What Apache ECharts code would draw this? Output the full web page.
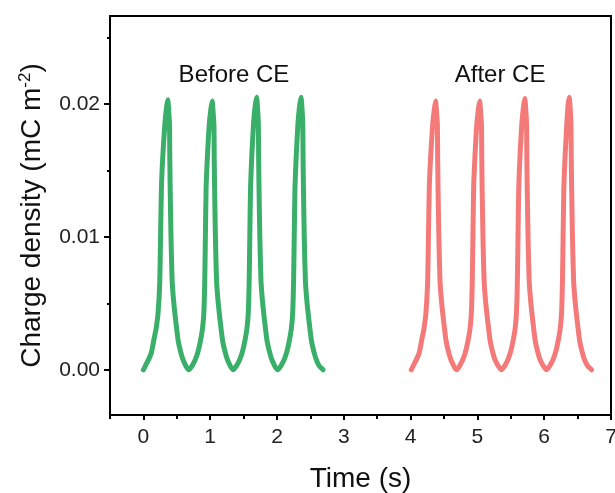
<!DOCTYPE html>
<html>
<head>
<meta charset="utf-8">
<script src="https://cdn.jsdelivr.net/npm/echarts@6/dist/echarts.min.js"></script>
<style>
  html, body { margin: 0; padding: 0; background: #fff; }
  #chart { width: 615px; height: 493px; }
</style>
</head>
<body>
<div id="chart"></div>
<script>
// Charge density traces, time (s) vs charge density (mC m^-2)
const beforeCE = [
  [0.000, 0.0000], [0.040, 0.0004], [0.080, 0.0008], [0.120, 0.0013], [0.155, 0.0022], [0.190, 0.0031],
  [0.220, 0.0043], [0.245, 0.0066], [0.257, 0.0100], [0.270, 0.0137], [0.290, 0.0160], [0.320, 0.0184],
  [0.345, 0.0197], [0.365, 0.0203],
  [0.377, 0.0196], [0.391, 0.0184], [0.395, 0.0160], [0.401, 0.0136], [0.413, 0.0100], [0.430, 0.0067],
  [0.450, 0.0053], [0.470, 0.0043], [0.495, 0.0032], [0.520, 0.0022], [0.555, 0.0014], [0.590, 0.0008],
  [0.635, 0.0003], [0.660, 0.0001], [0.680, 0.0000], [0.700, 0.0001],
  [0.730, 0.0003], [0.780, 0.0008], [0.820, 0.0014], [0.855, 0.0022], [0.885, 0.0031], [0.905, 0.0043],
  [0.918, 0.0066], [0.928, 0.0100], [0.939, 0.0137], [0.958, 0.0160], [0.985, 0.0184], [1.010, 0.0196],
  [1.030, 0.0202],
  [1.042, 0.0195], [1.056, 0.0184], [1.060, 0.0160], [1.066, 0.0136], [1.078, 0.0100], [1.095, 0.0067],
  [1.115, 0.0053], [1.135, 0.0043], [1.160, 0.0032], [1.185, 0.0022], [1.220, 0.0014], [1.255, 0.0008],
  [1.300, 0.0003], [1.325, 0.0001], [1.345, 0.0000], [1.365, 0.0001],
  [1.395, 0.0003], [1.445, 0.0008], [1.485, 0.0014], [1.520, 0.0022], [1.550, 0.0031], [1.570, 0.0043],
  [1.583, 0.0066], [1.593, 0.0100], [1.604, 0.0137], [1.623, 0.0161], [1.650, 0.0186], [1.675, 0.0199],
  [1.695, 0.0205],
  [1.707, 0.0198], [1.721, 0.0185], [1.725, 0.0160], [1.731, 0.0136], [1.743, 0.0100], [1.760, 0.0067],
  [1.780, 0.0053], [1.800, 0.0043], [1.825, 0.0032], [1.850, 0.0022], [1.885, 0.0014], [1.920, 0.0008],
  [1.965, 0.0003], [1.990, 0.0001], [2.010, 0.0000], [2.030, 0.0001],
  [2.060, 0.0003], [2.110, 0.0008], [2.150, 0.0014], [2.185, 0.0022], [2.215, 0.0031], [2.235, 0.0043],
  [2.248, 0.0066], [2.258, 0.0100], [2.269, 0.0137], [2.288, 0.0161], [2.315, 0.0186], [2.340, 0.0199],
  [2.360, 0.0205],
  [2.372, 0.0198], [2.386, 0.0185], [2.390, 0.0160], [2.396, 0.0136], [2.408, 0.0100], [2.425, 0.0067],
  [2.445, 0.0053], [2.465, 0.0043], [2.490, 0.0032], [2.515, 0.0022], [2.550, 0.0014], [2.585, 0.0008],
  [2.630, 0.0003], [2.670, 0.0001], [2.690, 0.0000]
];

const afterCE = [
  [4.010, 0.0000], [4.050, 0.0004], [4.090, 0.0008], [4.130, 0.0013], [4.165, 0.0022], [4.200, 0.0031],
  [4.230, 0.0043], [4.255, 0.0066], [4.267, 0.0100], [4.280, 0.0137], [4.300, 0.0160], [4.330, 0.0184],
  [4.355, 0.0196], [4.375, 0.0202],
  [4.387, 0.0195], [4.401, 0.0184], [4.405, 0.0160], [4.411, 0.0136], [4.423, 0.0100], [4.440, 0.0067],
  [4.460, 0.0053], [4.480, 0.0043], [4.505, 0.0032], [4.530, 0.0022], [4.565, 0.0014], [4.600, 0.0008],
  [4.645, 0.0003], [4.670, 0.0001], [4.690, 0.0000], [4.710, 0.0001],
  [4.735, 0.0003], [4.785, 0.0008], [4.825, 0.0014], [4.860, 0.0022], [4.890, 0.0031], [4.910, 0.0043],
  [4.923, 0.0066], [4.933, 0.0100], [4.944, 0.0137], [4.963, 0.0160], [4.990, 0.0184], [5.015, 0.0196],
  [5.035, 0.0202],
  [5.047, 0.0195], [5.061, 0.0184], [5.065, 0.0160], [5.071, 0.0136], [5.083, 0.0100], [5.100, 0.0067],
  [5.120, 0.0053], [5.140, 0.0043], [5.165, 0.0032], [5.190, 0.0022], [5.225, 0.0014], [5.260, 0.0008],
  [5.310, 0.0003], [5.340, 0.0001], [5.360, 0.0000], [5.380, 0.0001],
  [5.410, 0.0003], [5.460, 0.0008], [5.500, 0.0014], [5.535, 0.0022], [5.565, 0.0031], [5.585, 0.0043],
  [5.598, 0.0066], [5.608, 0.0100], [5.619, 0.0137], [5.638, 0.0161], [5.665, 0.0185], [5.690, 0.0198],
  [5.710, 0.0204],
  [5.722, 0.0197], [5.736, 0.0185], [5.740, 0.0160], [5.746, 0.0136], [5.758, 0.0100], [5.775, 0.0067],
  [5.795, 0.0053], [5.815, 0.0043], [5.840, 0.0032], [5.865, 0.0022], [5.900, 0.0014], [5.935, 0.0008],
  [5.985, 0.0003], [6.015, 0.0001], [6.035, 0.0000], [6.055, 0.0001],
  [6.085, 0.0003], [6.135, 0.0008], [6.175, 0.0014], [6.210, 0.0022], [6.240, 0.0031], [6.260, 0.0043],
  [6.273, 0.0066], [6.283, 0.0100], [6.294, 0.0137], [6.313, 0.0161], [6.340, 0.0186], [6.357, 0.0199],
  [6.375, 0.0205],
  [6.387, 0.0198], [6.401, 0.0185], [6.405, 0.0160], [6.411, 0.0136], [6.423, 0.0100], [6.440, 0.0067],
  [6.460, 0.0053], [6.480, 0.0043], [6.505, 0.0032], [6.530, 0.0022], [6.565, 0.0014], [6.600, 0.0008],
  [6.650, 0.0003], [6.690, 0.0001], [6.710, 0.0000]
];

const xMajorTicks = [0, 1, 2, 3, 4, 5, 6, 7];
const xMinorTicks = [-0.5, 0.5, 1.5, 2.5, 3.5, 4.5, 5.5, 6.5];
const yMajorTicks = [0, 0.01, 0.02];
const yMinorTicks = [0.005, 0.015, 0.025];
const annotations = [
  { text: 'Before CE', coord: [1.356, 0.0221] },
  { text: 'After CE', coord: [5.34, 0.0221] }
];

const FONT = '"Liberation Sans", Arial, sans-serif';
const X_RANGE = [-0.5, 7];
const Y_RANGE = [-0.0034, 0.0266];
const TICK_STYLE = { color: '#000', width: 2 };

const chart = echarts.init(document.getElementById('chart'), null, { renderer: 'canvas' });

function annotationMark(item) {
  return {
    symbol: 'circle',
    symbolSize: 1,
    itemStyle: { color: 'rgba(0,0,0,0)' },
    label: {
      show: true, position: 'inside', formatter: item.text,
      fontSize: 24, color: '#111', fontFamily: FONT
    },
    data: [{ coord: item.coord }]
  };
}

chart.setOption({
  backgroundColor: '#fff',
  animation: false,
  grid: {
    left: 110, right: 4, top: 16, bottom: 78,
    show: true, borderColor: '#000', borderWidth: 2,
    outerBoundsMode: 'none'
  },
  xAxis: [
    {
      type: 'value', min: X_RANGE[0], max: X_RANGE[1],
      axisLine: { show: true, onZero: false, lineStyle: { color: '#000', width: 2 } },
      axisTick: { show: true, inside: false, length: 5, customValues: xMajorTicks, lineStyle: TICK_STYLE },
      axisLabel: { show: true, customValues: xMajorTicks, margin: 12, fontSize: 21, color: '#222', fontFamily: FONT },
      splitLine: { show: false },
      name: 'Time (s)', nameLocation: 'middle', nameGap: 50,
      nameTextStyle: { fontSize: 28, color: '#111', fontFamily: FONT }
    },
    {
      type: 'value', min: X_RANGE[0], max: X_RANGE[1], position: 'bottom',
      axisLine: { show: false, onZero: false },
      axisTick: { show: true, inside: false, length: 4, customValues: xMinorTicks, lineStyle: TICK_STYLE },
      axisLabel: { show: false },
      splitLine: { show: false }
    }
  ],
  yAxis: [
    {
      type: 'value', min: Y_RANGE[0], max: Y_RANGE[1],
      axisLine: { show: true, onZero: false, lineStyle: { color: '#000', width: 2 } },
      axisTick: { show: true, inside: false, length: 6, customValues: yMajorTicks, lineStyle: TICK_STYLE },
      axisLabel: {
        show: true, customValues: yMajorTicks, margin: 10, fontSize: 21, color: '#222', fontFamily: FONT,
        formatter: v => v.toFixed(2)
      },
      splitLine: { show: false },
      name: 'Charge density (mC m{sup|-2})', nameLocation: 'middle', nameGap: 62, nameRotate: 90,
      nameTextStyle: {
        fontSize: 28, color: '#111', fontFamily: FONT,
        rich: { sup: { fontSize: 17, verticalAlign: 'top', padding: [0, 0, 14, 0], fontFamily: FONT, color: '#111' } }
      }
    },
    {
      type: 'value', min: Y_RANGE[0], max: Y_RANGE[1], position: 'left',
      axisLine: { show: false, onZero: false },
      axisTick: { show: true, inside: false, length: 3, customValues: yMinorTicks, lineStyle: TICK_STYLE },
      axisLabel: { show: false },
      splitLine: { show: false }
    }
  ],
  series: [
    {
      name: 'Before CE', type: 'line', data: beforeCE, showSymbol: false, smooth: 0.2,
      lineStyle: { color: '#3aaf6a', width: 5, join: 'round', cap: 'round' },
      markPoint: annotationMark(annotations[0])
    },
    {
      name: 'After CE', type: 'line', data: afterCE, showSymbol: false, smooth: 0.2,
      lineStyle: { color: '#f47a7a', width: 5, join: 'round', cap: 'round' },
      markPoint: annotationMark(annotations[1])
    }
  ]
});
</script>
</body>
</html>
